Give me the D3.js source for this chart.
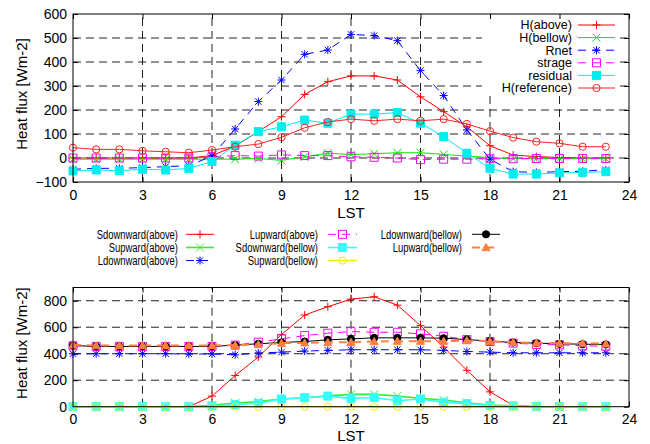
<!DOCTYPE html>
<html lang="en">
<head>
<meta charset="UTF-8">
<title>Heat flux</title>
<script src="https://cdn.jsdelivr.net/npm/d3@7"></script>
<style>
  body { margin: 0; background: #fff; }
  text { font-family: "Liberation Sans", Arial, sans-serif; fill: #000; }
</style>
</head>
<body>
<script>
// ---- data (LST hours) ----
var hours = [0,1,2,3,4,5,6,7,8,9,10,11,12,13,14,15,16,17,18,19,20,21,22,23];

// top panel
var hAbove     = [0,0,0,0,0,0,10,50,110,172,265,318,342,342,325,255,193,130,51,12,6,2,0,0];
var hBellow    = [-5,-5,-5,-5,-5,-5,-5,-5,-2,-10,5,20,14,18,22,22,15,8,2,-3,-3,-3,-3,-3];
var rnet       = [-47,-43,-43,-40,-36,-32,8,121,235,325,432,450,515,510,489,364,260,117,-5,-57,-60,-57,-55,-49];
var strage     = [0,0,0,0,0,0,5,10,8,13,10,10,5,3,0,-7,-5,-5,-3,-3,-2,-2,-2,-2];
var residual   = [-54,-50,-53,-47,-50,-43,-15,53,110,130,158,145,183,183,189,145,89,20,-43,-67,-67,-62,-60,-57];
var hReference = [43,36,36,30,26,22,33,47,58,86,126,150,162,155,162,155,162,142,112,85,68,61,47,47];

// bottom panel
var sDownAbove = [0,0,0,0,0,0,80,235,375,545,692,755,812,830,767,612,450,275,112,10,0,0,0,0];
var sUpAbove   = [0,0,0,0,0,0,10,28,38,58,68,82,93,93,81,63,50,30,12,5,0,0,0,0];
var lDownAbove = [400,400,400,400,400,398,398,392,405,412,420,425,430,430,430,430,425,417,412,407,407,407,407,407];
var lUpAbove   = [460,455,455,455,455,455,455,465,487,512,537,555,567,562,562,550,532,507,492,480,470,467,460,457];
var sDownBel   = [0,0,0,0,0,0,5,15,25,58,68,80,63,70,45,58,33,23,10,5,0,0,0,0];
var sUpBel     = [0,0,0,0,0,0,0,0,0,0,0,0,0,0,0,0,0,0,0,0,0,0,0,0];
var lDownBel   = [462,455,455,455,455,455,455,465,475,485,492,505,512,520,520,520,517,507,495,485,480,475,472,470];
var lUpBel     = [467,462,462,462,462,462,462,465,470,480,482,485,487,492,495,495,495,500,495,487,482,480,480,475];

var xTicks = [0,3,6,9,12,15,18,21,24];
var yTicksTop = [-100,0,100,200,300,400,500,600];
var yTicksBot = [0,200,400,600,800];

var topSeries = [
  { name: "H(above)",     values: hAbove,     color: "#ff0000", mark: "plus" },
  { name: "H(bellow)",    values: hBellow,    color: "#00ee00", mark: "cross" },
  { name: "Rnet",         values: rnet,       color: "#0000ff", mark: "star", dash: "8,6" },
  { name: "strage",       values: strage,     color: "#ff00ff", mark: "box", dash: "8,6" },
  { name: "residual",     values: residual,   color: "#00eeee", mark: "fbox" },
  { name: "H(reference)", values: hReference, color: "#ff2020", mark: "circle" }
];

var botSeries = [
  { name: "Sdownward(above)", values: sDownAbove, color: "#ff0000", mark: "plus" },
  { name: "Supward(above)",   values: sUpAbove,   color: "#33ee33", mark: "cross", w: 1.6 },
  { name: "Ldownward(above)", values: lDownAbove, color: "#0000ff", mark: "star", dash: "8,6" },
  { name: "Lupward(above)",   values: lUpAbove,   color: "#ff00ff", mark: "box", dash: "8,6" },
  { name: "Sdownward(bellow)",values: sDownBel,   color: "#33ffff", mark: "fbox", w: 1.6 },
  { name: "Supward(bellow)",  values: sUpBel,     color: "#eeee00", mark: "circle", w: 1.4 },
  { name: "Ldownward(bellow)",values: lDownBel,   color: "#000000", mark: "fcircle" },
  { name: "Lupward(bellow)",  values: lUpBel,     color: "#ff7f40", mark: "tri", dash: "8,6", w: 2 }
];

var svg = d3.select("body").append("svg").attr("width", 650).attr("height", 444);

var x = d3.scaleLinear().domain([0, 24]).range([73, 629]);
var yTop = d3.scaleLinear().domain([-100, 600]).range([182, 14]);
var yBot = d3.scaleLinear().domain([0, 900]).range([406.7, 287.5]);

function markPath(type, s) {
  switch (type) {
    case "plus":  return "M" + (-s) + ",0H" + s + "M0," + (-s) + "V" + s;
    case "cross": return "M" + (-s) + "," + (-s) + "L" + s + "," + s + "M" + (-s) + "," + s + "L" + s + "," + (-s);
    case "star":  return markPath("plus", s) + markPath("cross", s * 0.8);
    case "box": case "fbox": return "M" + (-s) + "," + (-s) + "H" + s + "V" + s + "H" + (-s) + "Z";
    case "circle": case "fcircle": return d3.symbol(d3.symbolCircle, Math.PI * s * s)();
    case "tri": return "M0," + (-s) + "L" + s + "," + (s * 0.8) + "L" + (-s) + "," + (s * 0.8) + "Z";
  }
}
function isFilled(t) { return t === "fbox" || t === "fcircle" || t === "tri"; }

function drawMark(g, d, px, py) {
  var size = (d.mark === "circle" || d.mark === "fcircle") ? 3.6 : 4;
  g.append("path")
    .attr("transform", "translate(" + px + "," + py + ")")
    .attr("d", markPath(d.mark, size))
    .attr("fill", isFilled(d.mark) ? d.color : "none")
    .attr("stroke", d.color)
    .attr("stroke-width", 1);
}

function panel(y, yTicks, series, legendBox, tickPad, lstOff) {
  var g = svg.append("g");
  var x0 = x.range()[0], x1 = x.range()[1], yb = y.range()[0], yt = y.range()[1];

  // dashed grid
  g.selectAll(".gx").data(xTicks.slice(1, -1)).enter().append("line")
    .attr("x1", function (d) { return x(d); }).attr("x2", function (d) { return x(d); })
    .attr("y1", yb).attr("y2", yt)
    .attr("stroke", "#222").attr("stroke-dasharray", "8,5");
  g.selectAll(".gy").data(yTicks.filter(function (d) { return y(d) < yb - 1 && y(d) > yt + 1; })).enter().append("line")
    .attr("y1", function (d) { return y(d); }).attr("y2", function (d) { return y(d); })
    .attr("x1", x0).attr("x2", x1)
    .attr("stroke", "#222").attr("stroke-dasharray", "8,5");

  if (legendBox) {
    g.append("rect").attr("x", legendBox[0]).attr("y", legendBox[1])
      .attr("width", legendBox[2]).attr("height", legendBox[3]).attr("fill", "#fff");
  }

  // axes with inward ticks, mirrored
  var ax = g.append("g").attr("class", "ax");
  ax.append("g").attr("transform", "translate(" + x0 + ",0)")
    .call(d3.axisLeft(y).tickValues(yTicks).tickSize(-5).tickPadding(6));
  ax.append("g").attr("transform", "translate(" + x1 + ",0)")
    .call(d3.axisRight(y).tickValues(yTicks).tickSize(-5).tickFormat(""));
  ax.append("g").attr("transform", "translate(0," + yb + ")")
    .call(d3.axisBottom(x).tickValues(xTicks).tickSize(-5).tickPadding(tickPad));
  ax.append("g").attr("transform", "translate(0," + yt + ")")
    .call(d3.axisTop(x).tickValues(xTicks).tickSize(-5).tickFormat(""));
  ax.selectAll(".domain").remove();
  ax.selectAll("line").attr("stroke", "#000");
  ax.selectAll("text").attr("font-size", 14).attr("font-family", "Liberation Sans, Arial, sans-serif").attr("fill", "#000");

  // data
  var line = d3.line().x(function (d, i) { return x(hours[i]); }).y(function (d) { return y(d); });
  series.forEach(function (s) {
    var sg = g.append("g");
    sg.append("path").datum(s.values).attr("d", line)
      .attr("fill", "none").attr("stroke", s.color)
      .attr("stroke-width", s.w || 1)
      .attr("stroke-dasharray", s.dash || null);
    s.values.forEach(function (v, i) { drawMark(sg, s, x(hours[i]), y(v)); });
  });

  // frame
  g.append("rect").attr("x", x0).attr("y", yt).attr("width", x1 - x0).attr("height", yb - yt)
    .attr("fill", "none").attr("stroke", "#000").attr("stroke-width", 1);

  // labels
  g.append("text").attr("x", (x0 + x1) / 2).attr("y", yb + lstOff)
    .attr("text-anchor", "middle").attr("font-size", 15).text("LST");
  g.append("text")
    .attr("transform", "translate(27," + ((yb + yt) / 2 - 4) + ") rotate(-90)")
    .attr("text-anchor", "middle").attr("font-size", 15).text("Heat flux [Wm-2]");
}

function legendEntry(s, textRight, lx0, lx1, cy, fs, sx) {
  var g = svg.append("g");
  g.append("text")
    .attr("transform", "translate(" + textRight + "," + cy + ") scale(" + sx + ",1)")
    .attr("dy", "0.35em")
    .attr("text-anchor", "end").attr("font-size", fs).text(s.name);
  g.append("line").attr("x1", lx0).attr("x2", lx1).attr("y1", cy).attr("y2", cy)
    .attr("stroke", s.color).attr("stroke-width", s.w || 1)
    .attr("stroke-dasharray", s.dash || null);
  drawMark(g, s, (lx0 + lx1) / 2, cy);
}

panel(yTop, yTicksTop, topSeries, [482, 17, 138, 78], 8, 36);
panel(yBot, yTicksBot, botSeries, null, 7, 34);

// top legend (inside, top right)
topSeries.forEach(function (s, i) {
  legendEntry(s, 572, 578, 615, 25 + i * 12.6, 12.5, 1);
});

// bottom legend (three columns above the lower panel)
var cols = [[178, 186, 214], [318, 328, 357], [462, 472, 500]];
var rowsY = [234.3, 247.5, 260.5];
botSeries.forEach(function (s, i) {
  var c = cols[Math.floor(i / 3)], r = rowsY[i % 3];
  legendEntry(s, c[0], c[1], c[2], r, 13.5, 0.7);
});
</script>
</body>
</html>
